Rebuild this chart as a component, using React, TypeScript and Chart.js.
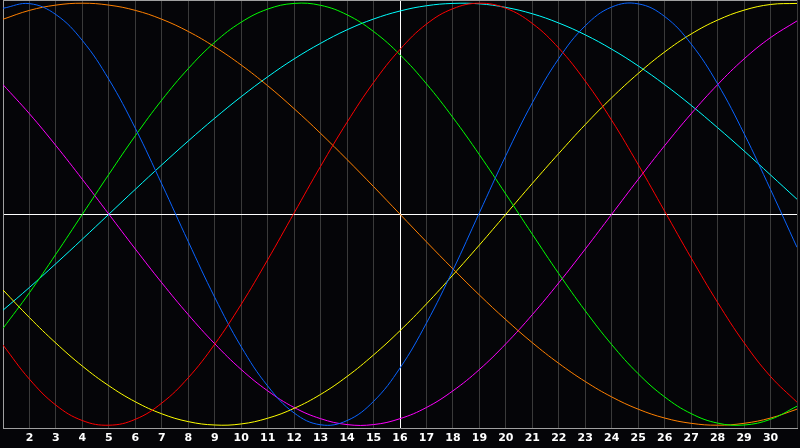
import React, { useEffect, useRef } from 'react';
import { Chart, registerables } from 'chart.js';

Chart.register(...registerables);

// x positions (category values 1..31)
const X = [1, 2, 3, 4, 5, 6, 7, 8, 9, 10, 11, 12, 13, 14, 15, 16, 17, 18, 19, 20, 21, 22, 23, 24, 25, 26, 27, 28, 29, 30, 31];
// tick labels shown under the plot
const TICK_LABELS = ['2', '3', '4', '5', '6', '7', '8', '9', '10', '11', '12', '13', '14', '15', '16', '17', '18', '19', '20', '21', '22', '23', '24', '25', '26', '27', '28', '29', '30'];

const RED = [-0.620, -0.782, -0.905, -0.978, -1.000, -0.972, -0.895, -0.775, -0.616, -0.427, -0.216, 0.006, 0.227, 0.436, 0.624, 0.781, 0.901, 0.974, 1.000, 0.976, 0.904, 0.787, 0.631, 0.445, 0.235, 0.014, -0.207, -0.418, -0.609, -0.769, -0.891];
const BLUE = [0.976, 0.998, 0.946, 0.823, 0.639, 0.407, 0.143, -0.130, -0.394, -0.628, -0.814, -0.942, -0.998, -0.978, -0.887, -0.729, -0.516, -0.265, 0.007, 0.278, 0.528, 0.738, 0.893, 0.982, 0.997, 0.937, 0.807, 0.618, 0.382, 0.117, -0.157];
const GREEN = [-0.541, -0.372, -0.189, 0.000, 0.189, 0.372, 0.541, 0.690, 0.815, 0.910, 0.972, 0.999, 0.990, 0.945, 0.866, 0.756, 0.618, 0.458, 0.282, 0.095, -0.095, -0.282, -0.458, -0.618, -0.756, -0.866, -0.945, -0.990, -0.999, -0.972, -0.910];
const ORANGE = [0.924, 0.966, 0.991, 1.000, 0.991, 0.966, 0.924, 0.866, 0.793, 0.707, 0.609, 0.500, 0.383, 0.259, 0.131, 0.000, -0.131, -0.259, -0.383, -0.500, -0.609, -0.707, -0.793, -0.866, -0.924, -0.966, -0.991, -1.000, -0.991, -0.966, -0.924];
const YELLOW = [-0.359, -0.490, -0.611, -0.720, -0.813, -0.889, -0.946, -0.983, -0.999, -0.994, -0.967, -0.920, -0.854, -0.769, -0.667, -0.552, -0.425, -0.288, -0.146, 0.000, 0.146, 0.288, 0.425, 0.552, 0.667, 0.769, 0.854, 0.920, 0.967, 0.994, 0.999];
const MAGENTA = [0.614, 0.476, 0.325, 0.165, 0.000, -0.165, -0.325, -0.476, -0.614, -0.736, -0.837, -0.916, -0.969, -0.997, -0.997, -0.969, -0.916, -0.837, -0.736, -0.614, -0.476, -0.325, -0.165, 0.000, 0.165, 0.325, 0.476, 0.614, 0.736, 0.837, 0.916];
const CYAN = [-0.455, -0.347, -0.234, -0.118, 0.000, 0.118, 0.234, 0.347, 0.455, 0.557, 0.651, 0.736, 0.810, 0.874, 0.925, 0.963, 0.988, 0.999, 0.997, 0.980, 0.950, 0.906, 0.850, 0.782, 0.703, 0.614, 0.516, 0.410, 0.300, 0.186, 0.071];

const SERIES: [number[], string][] = [
  [RED, '#ff0000'],
  [BLUE, '#0a64ff'],
  [GREEN, '#00ff00'],
  [ORANGE, '#ff8000'],
  [YELLOW, '#ffff00'],
  [MAGENTA, '#ff00ff'],
  [CYAN, '#00ffff'],
];

const REF_X = 16;
const REF_Y = 0;

const topBorder = {
  id: 'topBorder',
  afterDraw(chart: any) {
    const { ctx, chartArea } = chart;
    ctx.save();
    ctx.strokeStyle = '#a0a0a0';
    ctx.lineWidth = 1;
    ctx.beginPath();
    ctx.moveTo(chartArea.left, chartArea.top + 0.5);
    ctx.lineTo(chartArea.right, chartArea.top + 0.5);
    ctx.stroke();
    ctx.restore();
  },
};

export default function App() {
  const ref = useRef<HTMLCanvasElement>(null);

  useEffect(() => {
    const chart = new Chart(ref.current as HTMLCanvasElement, {
      type: 'line',
      data: {
        datasets: SERIES.map(([vals, color]) => ({
          data: X.map((x, i) => ({ x, y: vals[i] })),
          borderColor: color,
          borderWidth: 1,
          pointRadius: 0,
          fill: false,
          tension: 0.4,
        })),
      },
      options: {
        responsive: false,
        devicePixelRatio: 1,
        animation: false,
        events: [],
        layout: { padding: { top: 0, left: 0, right: 0, bottom: 0 } },
        plugins: { legend: { display: false }, tooltip: { enabled: false } },
        scales: {
          x: {
            type: 'linear',
            position: 'bottom',
            min: 1,
            max: 31,
            grid: {
              color: (ctx: any) => (ctx.tick && ctx.tick.value === REF_X ? '#ffffff' : '#3a3a3a'),
              lineWidth: 1,
              drawTicks: false,
            },
            border: { display: true, color: '#a0a0a0', width: 1 },
            ticks: {
              stepSize: 1,
              autoSkip: false,
              maxRotation: 0,
              minRotation: 0,
              padding: 3,
              color: '#ffffff',
              font: { family: 'DejaVu Sans', size: 11, weight: 'bold' },
              callback: (v: any) => (TICK_LABELS.includes(String(v)) ? String(v) : ''),
            },
          },
          y: {
            type: 'linear',
            position: 'left',
            min: -1.017,
            max: 1.0152,
            afterBuildTicks: (s: any) => {
              s.ticks = [{ value: REF_Y }];
            },
            grid: { color: '#ffffff', lineWidth: 1, drawTicks: false },
            border: { display: true, color: '#a0a0a0', width: 1 },
            ticks: { display: false },
          },
        },
      },
      plugins: [topBorder],
    } as any);
    return () => chart.destroy();
  }, []);

  return (
    <div style={{ position: 'fixed', left: 0, top: 0, width: 800, height: 448, background: '#050508' }}>
      <canvas ref={ref} width={800} height={448} style={{ display: 'block', width: 800, height: 448 }} />
    </div>
  );
}
